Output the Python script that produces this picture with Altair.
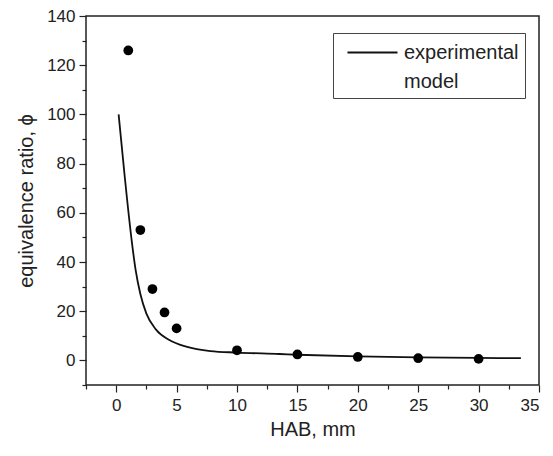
import altair as alt
import pandas as pd

# experimental points (filled circles)
exp_x = [1, 2, 3, 4, 5, 10, 15, 20, 25, 30]
exp_y = [126, 53, 29, 19.5, 13, 4.1, 2.4, 1.4, 0.9, 0.6]

# model curve
model_x = [0.2, 0.7, 1.3, 1.6, 2.0, 2.5, 3.3, 4.4, 5.8, 7.8, 10, 13.5, 15, 20, 25, 30, 33.5]
model_y = [100, 75, 48, 37, 27, 19, 12.5, 8.3, 5.6, 3.8, 3.2, 2.6, 2.3, 1.6, 1.2, 1.0, 0.9]

legend_labels = ["experimental", "model"]

x_major = [0, 5, 10, 15, 20, 25, 30, 35]
x_minor = [-2.5, 2.5, 7.5, 12.5, 17.5, 22.5, 27.5, 32.5]
y_major = [0, 20, 40, 60, 80, 100, 120, 140]
y_minor = [-10, 10, 30, 50, 70, 90, 110, 130]

FONT = "Liberation Sans"
INK = "#222222"

exp_df = pd.DataFrame({"x": exp_x, "y": exp_y})
model_df = pd.DataFrame({"x": model_x, "y": model_y, "series": legend_labels[0]})

xscale = alt.Scale(domain=[-2.5, 35], nice=False, zero=False)
yscale = alt.Scale(domain=[-10, 140], nice=False, zero=False)

major_common = dict(
    domain=False, grid=False, tickSize=7, tickColor=INK, tickWidth=1.2,
    labelFont=FONT, labelFontSize=17, labelColor=INK,
    titleFont=FONT, titleFontSize=20, titleColor=INK, titleFontWeight="normal",
)
minor_common = dict(
    domain=False, grid=False, tickSize=4, tickColor=INK, tickWidth=1.2,
    labels=False, title=None,
)

line = alt.Chart(model_df).mark_line(strokeWidth=1.8, interpolate="monotone").encode(
    x=alt.X("x:Q", scale=xscale,
            axis=alt.Axis(orient="bottom", values=x_major, title="HAB, mm",
                          labelPadding=5, titlePadding=6, **major_common)),
    y=alt.Y("y:Q", scale=yscale,
            axis=alt.Axis(orient="left", values=y_major, title="equivalence ratio, ϕ",
                          labelPadding=4, titlePadding=10, **major_common)),
    color=alt.Color("series:N",
                    scale=alt.Scale(domain=legend_labels, range=["#111111", "transparent"]),
                    legend=alt.Legend(
                        orient="none", legendX=247, legendY=17, title=None,
                        symbolType="M-2,0H2", symbolSize=625, symbolStrokeWidth=1.8,
                        symbolOffset=20,
                        labelFont=FONT, labelFontSize=20, labelColor=INK,
                        labelOffset=18, strokeColor="#444444", fillColor="white",
                        padding=6, rowPadding=5,
                    )),
)

points = alt.Chart(exp_df).mark_circle(size=95, color="#000000", opacity=1).encode(
    x=alt.X("x:Q", scale=xscale,
            axis=alt.Axis(orient="bottom", values=x_minor, **minor_common)),
    y=alt.Y("y:Q", scale=yscale,
            axis=alt.Axis(orient="left", values=y_minor, **minor_common)),
)

chart = (
    alt.layer(line, points)
    .resolve_scale(x="independent", y="independent")
    .properties(
        width=453, height=369,
        autosize=alt.AutoSizeParams(type="none"),
        padding={"left": 78, "top": 8, "right": 6, "bottom": 55},
        background="white",
    )
    .configure_view(stroke=INK, strokeWidth=1.5)
)

chart.save("out.html", embed_options={"renderer": "svg", "actions": False})
